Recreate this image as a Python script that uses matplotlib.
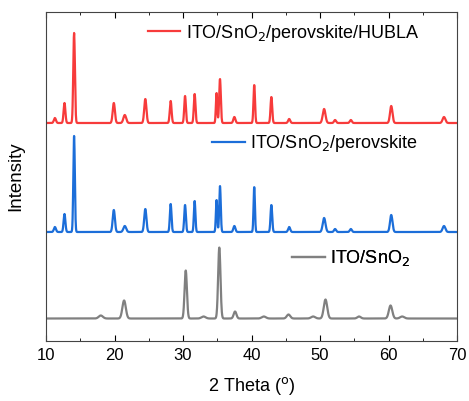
import numpy as np
import matplotlib.pyplot as plt

plt.rcParams['font.family'] = ['Liberation Sans', 'DejaVu Sans']

# peak lists: 2-theta position, height above baseline, width (sigma)
hubla_pos = [11.3, 12.7, 14.1, 19.9, 21.5, 24.5, 28.2, 30.3, 31.7, 34.9, 35.4,
             37.5, 40.4, 42.9, 45.5, 50.6, 52.2, 54.5, 60.4, 68.1]
hubla_hgt = [5, 20, 90, 20, 8, 24, 22, 27, 29, 30, 44,
             6, 38, 26, 4, 14, 3, 3, 17, 6]
hubla_wid = [0.15, 0.13, 0.12, 0.16, 0.2, 0.16, 0.13, 0.12, 0.12, 0.1, 0.12,
             0.15, 0.11, 0.12, 0.15, 0.2, 0.15, 0.15, 0.18, 0.2]

pero_pos = [11.3, 12.7, 14.1, 19.9, 21.5, 24.5, 28.2, 30.3, 31.7, 34.9, 35.4,
            37.5, 40.4, 42.9, 45.5, 50.6, 52.2, 54.5, 60.4, 68.1]
pero_hgt = [5, 18, 96, 22, 6, 23, 28, 27, 31, 32, 46,
            6, 45, 27, 5, 14, 3, 3, 17, 6]
pero_wid = [0.15, 0.13, 0.11, 0.16, 0.2, 0.16, 0.12, 0.12, 0.11, 0.1, 0.11,
            0.15, 0.1, 0.12, 0.15, 0.2, 0.15, 0.15, 0.18, 0.2]

sno2_pos = [18.0, 21.4, 30.4, 33.0, 35.3, 37.6, 41.8, 45.4, 49.0, 50.8, 55.7, 60.3, 62.0]
sno2_hgt = [3, 18, 48, 2, 71, 7, 2, 4, 2, 19, 2, 13, 2]
sno2_wid = [0.3, 0.25, 0.17, 0.3, 0.17, 0.2, 0.3, 0.25, 0.3, 0.25, 0.25, 0.25, 0.3]

# vertical offsets (baselines) of the stacked patterns
hubla_base = 218
pero_base = 109
sno2_base = 22.5

labels = ['ITO/SnO$_2$/perovskite/HUBLA', 'ITO/SnO$_2$/perovskite', 'ITO/SnO$_2$']
colors = ['#F73B3B', '#1C6ED9', '#808080']

tt = np.linspace(10, 70, 3000)


def pattern(pos, hgt, wid, base):
    y = np.full_like(tt, float(base))
    for p, h, w in zip(pos, hgt, wid):
        y += h * np.exp(-0.5 * ((tt - p) / w) ** 2)
    return y


curves = [pattern(hubla_pos, hubla_hgt, hubla_wid, hubla_base),
          pattern(pero_pos, pero_hgt, pero_wid, pero_base),
          pattern(sno2_pos, sno2_hgt, sno2_wid, sno2_base)]

fig = plt.figure(figsize=(4.69, 4.01), dpi=100)
ax = fig.add_axes([46/469, 60/401, 411/469, 329/401])

lines = []
for y, c in zip(curves, colors):
    l, = ax.plot(tt, y, color=c, lw=1.6)
    lines.append(l)

ax.set_xlim(10, 70)
ax.set_ylim(0, 329)
ax.set_xticks(np.arange(10, 71, 10))
ax.set_xticks(np.arange(15, 70, 10), minor=True)
ax.set_yticks([])
ax.tick_params(axis='x', which='both', direction='in', top=True, labelsize=12)
ax.tick_params(axis='x', which='major', length=4, pad=5)
ax.tick_params(axis='x', which='minor', length=2.5)
for s in ax.spines.values():
    s.set_color('#444444')
ax.set_xlabel('2 Theta ($^\\mathrm{o}$)', fontsize=13, labelpad=9)
ax.set_ylabel('Intensity', fontsize=13.5, labelpad=16)

# one legend entry next to each pattern
anchors = [(0.248, 0.936), (0.404, 0.599), (0.599, 0.252)]
for l, lab, a in zip(lines, labels, anchors):
    leg = ax.legend([l], [lab], loc='center left', bbox_to_anchor=a, frameon=False,
                    fontsize=13, handlelength=1.8, handletextpad=0.3,
                    borderaxespad=0, borderpad=0)
    ax.add_artist(leg)

plt.savefig('out.png', dpi=100)
